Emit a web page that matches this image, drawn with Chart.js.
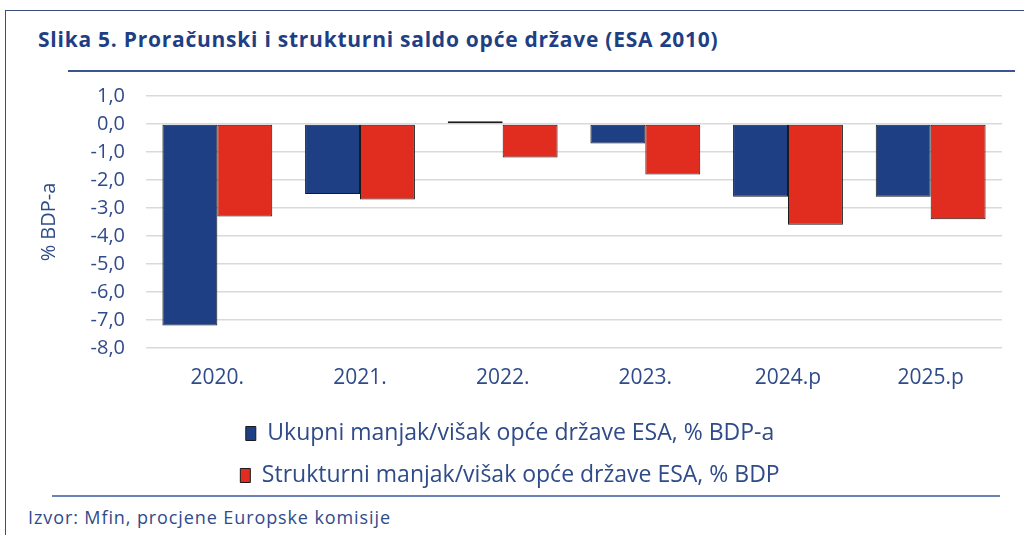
<!DOCTYPE html>
<html>
<head>
<meta charset="utf-8">
<script src="https://cdn.jsdelivr.net/npm/chart.js@4"></script>
<style>
  html, body { margin: 0; padding: 0; background: #fff; }
  body { width: 1024px; height: 535px; position: relative; overflow: hidden; font-family: "Open Sans", sans-serif; }
  .frame { position: absolute; left: 5px; top: 10px; width: 1030px; height: 600px; border-left: 1.5px solid #3b4f7f; border-top: 1.5px solid #3b4f7f; }
  .title { position: absolute; left: 38px; top: 25px; font-size: 21px; font-weight: bold; color: #1f3f85; letter-spacing: 0.75px; }
  .rule1 { position: absolute; left: 68px; top: 70px; width: 947px; height: 2px; background: #3b5591; }
  .rule2 { position: absolute; left: 52px; top: 495px; width: 948px; height: 2px; background: #6b82b5; }
  .source { position: absolute; left: 28px; top: 505px; font-size: 18px; color: #2f4b8a; letter-spacing: 0.9px; }
  .chart { position: absolute; left: 0; top: 63px; width: 1024px; height: 434px; }
</style>
</head>
<body>
<div class="frame"></div>
<div class="title">Slika 5. Proračunski i strukturni saldo opće države (ESA 2010)</div>
<div class="rule1"></div>
<div class="rule2"></div>
<div class="source">Izvor: Mfin, procjene Europske komisije</div>
<div class="chart"><canvas id="saldoChart"></canvas></div>
<script>
// podaci očitani sa slike
const years = ["2020.", "2021.", "2022.", "2023.", "2024.p", "2025.p"];
const ukupniSaldo = [-7.2, -2.5, 0.1, -0.7, -2.6, -2.6];
const strukturniSaldo = [-3.3, -2.7, -1.2, -1.8, -3.6, -3.4];
const seriesNames = [
  "Ukupni manjak/višak opće države ESA, % BDP-a",
  "Strukturni manjak/višak opće države ESA, % BDP"
];
const yTicks = [1, 0, -1, -2, -3, -4, -5, -6, -7, -8];

const textColor = "#2f4b8a";

document.addEventListener("DOMContentLoaded", () => {
  const ctx = document.getElementById("saldoChart").getContext("2d");

  new Chart(ctx, {
    type: "bar",
    data: {
      labels: years,
      datasets: [
        {
          label: seriesNames[0],
          data: ukupniSaldo,
          backgroundColor: "#1f3f85",
          borderColor: "#1a1a1a",
          borderWidth: 1,
          borderSkipped: false,
        },
        {
          label: seriesNames[1],
          data: strukturniSaldo,
          backgroundColor: "#e02d20",
          borderColor: "#1a1a1a",
          borderWidth: 1,
          borderSkipped: false,
        },
      ],
    },
    options: {
      responsive: true,
      maintainAspectRatio: false,
      animation: false,
      layout: { padding: { top: 0, right: 22, left: 18, bottom: 0 } },
      datasets: { bar: { barPercentage: 1, categoryPercentage: 0.77 } },
      plugins: {
        tooltip: { enabled: false },
        legend: {
          position: "bottom",
          labels: {
            color: textColor,
            font: { family: "Open Sans", size: 23 },
            boxWidth: 10,
            boxHeight: 14,
            padding: 19,
          },
        },
      },
      scales: {
        x: {
          grid: { display: false, drawTicks: false },
          border: { display: false },
          ticks: { color: textColor, font: { family: "Open Sans", size: 21 }, padding: 17 },
          afterFit: (axis) => {
            axis.height = 55;
          },
        },
        y: {
          min: -8,
          max: 1,
          afterBuildTicks: (axis) => {
            axis.ticks = yTicks.map((v) => ({ value: v }));
          },
          afterFit: (axis) => {
            axis.width = 128;
          },
          grid: { color: "#d9d9d9", lineWidth: 1.5, drawTicks: false },
          border: { display: false },
          ticks: {
            color: textColor,
            font: { family: "Open Sans", size: 20 },
            padding: 21,
            callback: (value) => value.toFixed(1).replace(".", ","),
          },
          title: {
            display: true,
            text: "% BDP-a",
            color: textColor,
            font: { family: "Open Sans", size: 20 },
            padding: { top: 19, bottom: 0 },
          },
        },
      },
    },
  });
});
</script>
</body>
</html>
